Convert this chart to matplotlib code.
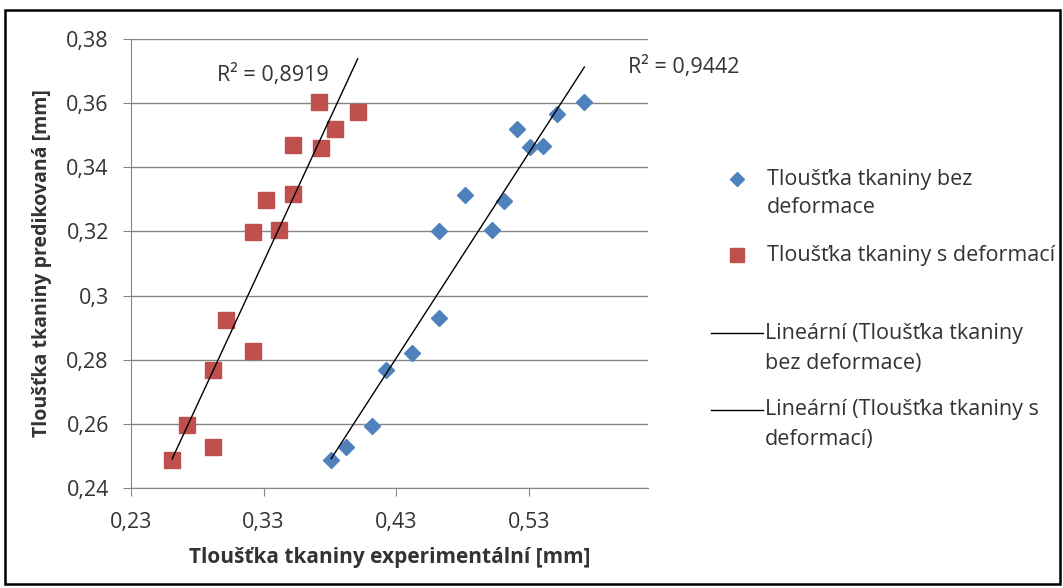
import numpy as np
import matplotlib
matplotlib.use('Agg')
import matplotlib.pyplot as plt
from matplotlib.patches import Rectangle
from matplotlib.lines import Line2D

# data
x_bez = [0.381, 0.392, 0.412, 0.422, 0.442, 0.462, 0.462, 0.482, 0.502, 0.511,
         0.521, 0.531, 0.541, 0.551, 0.572]
y_bez = [0.2487, 0.2528, 0.2593, 0.2769, 0.2822, 0.2929, 0.3200, 0.3314, 0.3205,
         0.3296, 0.3518, 0.3462, 0.3467, 0.3567, 0.3605]
x_s = [0.261, 0.272, 0.292, 0.292, 0.302, 0.322, 0.322, 0.332, 0.342, 0.352,
       0.352, 0.372, 0.373, 0.384, 0.401]
y_s = [0.2487, 0.2595, 0.2528, 0.2769, 0.2925, 0.2826, 0.3198, 0.3298, 0.3203,
       0.3316, 0.3468, 0.3605, 0.3459, 0.3519, 0.3572]
r2_bez = '0,9442'
r2_s = '0,8919'

xticks = [0.23, 0.33, 0.43, 0.53]
xtick_labels = ['0,23', '0,33', '0,43', '0,53']
yticks = [0.24, 0.26, 0.28, 0.30, 0.32, 0.34, 0.36, 0.38]
ytick_labels = ['0,24', '0,26', '0,28', '0,3', '0,32', '0,34', '0,36', '0,38']

plt.rcParams['font.family'] = ['Open Sans', 'DejaVu Sans']

W, H = 1063, 588
fig = plt.figure(figsize=(W / 100, H / 100), dpi=100)
ax = fig.add_axes([131 / W, 1 - 488 / H, 517 / W, 449 / H])

blue = '#4F81BD'
red = '#C0504D'
txt = '#333333'
fs = 15.5
fs_lab = 15

ax.plot(x_bez, y_bez, 'D', color=blue, markersize=8.5, zorder=3)
ax.plot(x_s, y_s, 's', color=red, markersize=11, zorder=3)

# linear trend lines
for xs, ys in [(x_bez, y_bez), (x_s, y_s)]:
    k, q = np.polyfit(xs, ys, 1)
    xx = np.array([min(xs), max(xs)])
    ax.plot(xx, k * xx + q, color='black', lw=1, zorder=4)

ax.text(0.337, 0.3688, 'R² = ' + r2_s, ha='center', va='center',
        fontsize=fs, color=txt)
ax.text(0.605, 0.3713, 'R² = ' + r2_bez, ha='left', va='center',
        fontsize=fs, color=txt, clip_on=False)

ax.set_xlim(0.23, 0.62)
ax.set_ylim(0.24, 0.38)
ax.set_xticks(xticks)
ax.set_xticklabels(xtick_labels)
ax.set_yticks(yticks)
ax.set_yticklabels(ytick_labels)
ax.tick_params(labelsize=fs, colors='#868686', labelcolor=txt,
               direction='out', length=6)
ax.tick_params(axis='x', pad=11)
ax.tick_params(axis='y', pad=10)
ax.grid(axis='y', color='#868686', lw=1)
ax.set_axisbelow(True)
for s in ['top', 'right']:
    ax.spines[s].set_visible(False)
for s in ['left', 'bottom']:
    ax.spines[s].set_color('#868686')

ax.set_xlabel('Tloušťka tkaniny experimentální [mm]', fontsize=fs_lab,
              fontweight='bold', color=txt, labelpad=10)
ax.set_ylabel('Tloušťka tkaniny predikovaná [mm]', fontsize=14,
              fontweight='bold', color=txt, labelpad=10)

# legend drawn by hand to match the spacing of the original
def fx(px):
    return px / W


def fy(py):
    return 1 - py / H


fig.add_artist(Line2D([fx(737)], [fy(179)], ls='none', marker='D', color=blue,
                      markersize=7.5))
fig.add_artist(Line2D([fx(737)], [fy(255)], ls='none', marker='s', color=red,
                      markersize=10))
fig.add_artist(Line2D([fx(711), fx(763)], [fy(333), fy(333)], color='black', lw=1))
fig.add_artist(Line2D([fx(711), fx(763)], [fy(410), fy(410)], color='black', lw=1))

legend_rows = [
    (767, 179, 'Tloušťka tkaniny bez'),
    (767, 208, 'deformace'),
    (767, 255, 'Tloušťka tkaniny s deformací'),
    (765, 333, 'Lineární (Tloušťka tkaniny'),
    (765, 363, 'bez deformace)'),
    (765, 410, 'Lineární (Tloušťka tkaniny s'),
    (765, 439, 'deformací)'),
]
for px, py, s in legend_rows:
    fig.text(fx(px), fy(py), s, ha='left', va='center', fontsize=fs, color=txt)

fig.add_artist(Rectangle((fx(5), fy(584)), 1055 / W, 574 / H,
                         transform=fig.transFigure, fill=False,
                         edgecolor='black', lw=1.8, zorder=10))

fig.savefig('out.png', dpi=100)
